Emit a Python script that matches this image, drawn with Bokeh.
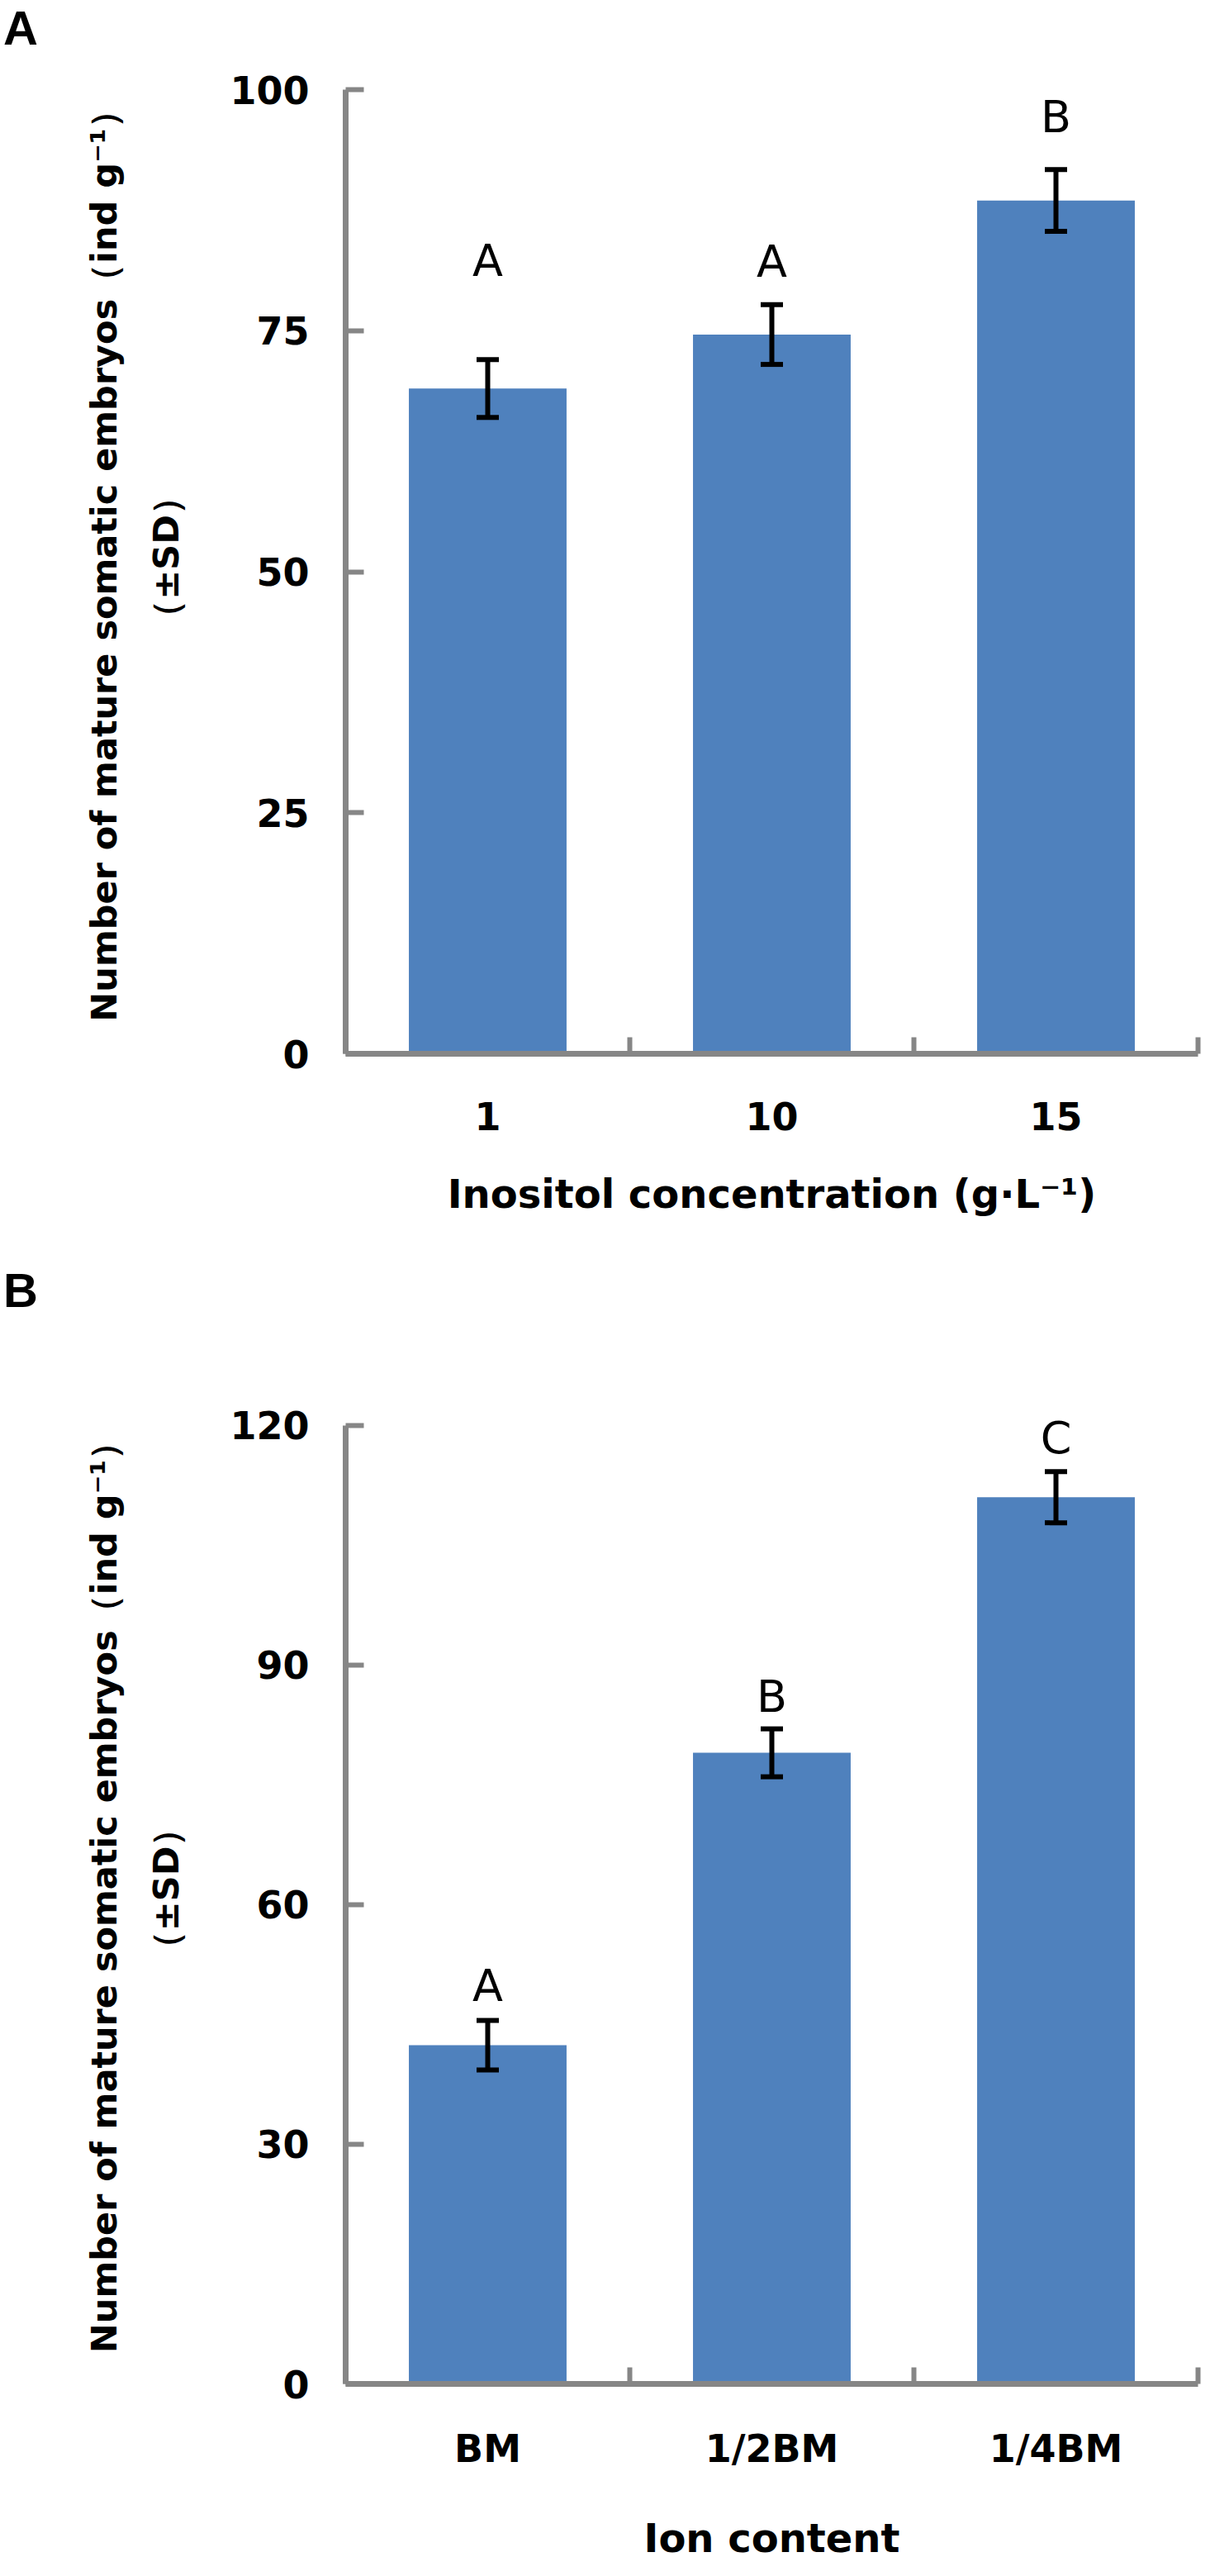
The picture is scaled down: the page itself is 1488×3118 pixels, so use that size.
from bokeh.plotting import figure
from bokeh.models import (Range1d, FixedTicker, LinearAxis, Whisker, ColumnDataSource,
                          TeeHead, LabelSet, Div)
from bokeh.layouts import column
from bokeh.embed import file_html
from bokeh.resources import INLINE
from bokeh.core.properties import value

# ---------------- data ----------------
a_categories = ["1", "10", "15"]
a_means = [69.0, 74.6, 88.5]
a_sd = [3.0, 3.1, 3.2]
a_letters = ["A", "A", "B"]
a_letter_y = [82.3, 82.2, 97.2]
a_yticks = [0, 25, 50, 75, 100]
a_xlabel = "Inositol concentration (g·L⁻¹)"

b_categories = ["BM", "1/2BM", "1/4BM"]
b_means = [42.4, 79.0, 111.0]
b_sd = [3.1, 3.0, 3.2]
b_letters = ["A", "B", "C"]
b_letter_y = [49.8, 86.0, 118.4]
b_yticks = [0, 30, 60, 90, 120]
b_xlabel = "Ion content"

ylabel_line1 = "Number of mature somatic embryos（ind g⁻¹）"
ylabel_line2 = "（±SD）"

BAR = "#4F81BD"
AXC = "#868686"
FONT = "DejaVu Sans"


def tag_div(tag, height, pad_top):
    html = ('<div style="font-family: \'Liberation Sans\', Arial, sans-serif; '
            'font-weight: bold; font-size: 58px; line-height: normal; color: #000; '
            f'padding-top: {pad_top}px; padding-left: 4px; margin: 0;">{tag}</div>')
    return Div(text=html, width=1472, height=height, margin=0)


def panel(cats, means, sd, letters, letter_y, yticks, xlabel, y_end,
          height, top_tick_px, frame_bottom, tick_standoff, xl_standoff):
    n = len(cats)
    px_per_unit = (frame_bottom - top_tick_px) / (yticks[-1] - yticks[0])
    frame_top = int(round(top_tick_px - (y_end - yticks[-1]) * px_per_unit))
    p = figure(width=1472, height=height, output_backend="svg", toolbar_location=None,
               x_range=Range1d(0, n), y_range=Range1d(yticks[0], y_end),
               min_border_left=418, min_border_right=22,
               min_border_top=frame_top, min_border_bottom=height - frame_bottom)
    p.outline_line_color = None
    p.grid.visible = False
    p.background_fill_color = "white"
    p.border_fill_color = "white"

    xs = [i + 0.5 for i in range(n)]
    src = ColumnDataSource(dict(x=xs, top=means,
                                upper=[m + s for m, s in zip(means, sd)],
                                lower=[m - s for m, s in zip(means, sd)],
                                letter=letters, ly=letter_y))
    p.vbar(x="x", top="top", bottom=0, width=0.555, source=src,
           fill_color=BAR, line_color=None)
    w = Whisker(base="x", upper="upper", lower="lower", source=src,
                line_color="black", line_width=6, level="annotation",
                upper_head=TeeHead(size=27, line_width=6, line_color="black"),
                lower_head=TeeHead(size=27, line_width=6, line_color="black"))
    p.add_layout(w)
    ls = LabelSet(x="x", y="ly", text="letter", source=src, text_font=value(FONT),
                  text_font_size="54px", text_align="center", text_baseline="middle",
                  text_color="black", level="annotation")
    p.add_layout(ls)

    # x axis
    xa = p.xaxis[0]
    xa.ticker = FixedTicker(ticks=xs, minor_ticks=list(range(n + 1)))
    xa.major_label_overrides = {x: c for x, c in zip(xs, cats)}
    xa.major_tick_line_color = None
    xa.major_tick_in = 0
    xa.major_tick_out = 0
    xa.minor_tick_in = 20
    xa.minor_tick_out = 0
    xa.minor_tick_line_color = AXC
    xa.minor_tick_line_width = 6
    xa.axis_line_color = AXC
    xa.axis_line_width = 7
    xa.major_label_standoff = tick_standoff
    xa.major_label_text_font = FONT
    xa.major_label_text_font_style = "bold"
    xa.major_label_text_font_size = "46px"
    xa.major_label_text_color = "black"
    xa.axis_label = xlabel
    xa.axis_label_text_font = FONT
    xa.axis_label_text_font_style = "bold"
    xa.axis_label_text_font_size = "48px"
    xa.axis_label_text_color = "black"
    xa.axis_label_standoff = xl_standoff

    # y axis
    ya = p.yaxis[0]
    ya.ticker = FixedTicker(ticks=yticks)
    ya.bounds = (yticks[0], yticks[-1])
    ya.major_tick_in = 22
    ya.major_tick_out = 0
    ya.major_tick_line_color = AXC
    ya.major_tick_line_width = 6
    ya.minor_tick_line_color = None
    ya.axis_line_color = AXC
    ya.axis_line_width = 7
    ya.major_label_standoff = 44
    ya.major_label_text_font = FONT
    ya.major_label_text_font_style = "bold"
    ya.major_label_text_font_size = "46px"
    ya.major_label_text_color = "black"
    ya.axis_label = ylabel_line2
    ya.axis_label_text_font = FONT
    ya.axis_label_text_font_style = "bold"
    ya.axis_label_text_font_size = "43px"
    ya.axis_label_text_color = "black"
    ya.axis_label_standoff = 49

    ya2 = LinearAxis(ticker=FixedTicker(ticks=[]), axis_label=ylabel_line1,
                     axis_line_color=None, major_tick_line_color=None,
                     minor_tick_line_color=None, major_tick_out=0, major_tick_in=0,
                     major_label_standoff=0, axis_label_standoff=23,
                     axis_label_text_font=FONT, axis_label_text_font_style="bold",
                     axis_label_text_font_size="43px", axis_label_text_color="black")
    p.add_layout(ya2, "left")
    return p


# page layout: tag A (div) / panel A / tag B (div) / panel B
div_a = tag_div("A", 68, 0)
pa = panel(a_categories, a_means, a_sd, a_letters, a_letter_y, a_yticks, a_xlabel,
           y_end=103, height=1428, top_tick_px=40, frame_bottom=1207,
           tick_standoff=58, xl_standoff=46)
div_b = tag_div("B", 100, 32)
pb = panel(b_categories, b_means, b_sd, b_letters, b_letter_y, b_yticks, b_xlabel,
           y_end=124, height=1506, top_tick_px=129, frame_bottom=1289,
           tick_standoff=51, xl_standoff=50)

layout = column(div_a, pa, div_b, pb, spacing=0)
open("out.html", "w").write(file_html(layout, INLINE))
